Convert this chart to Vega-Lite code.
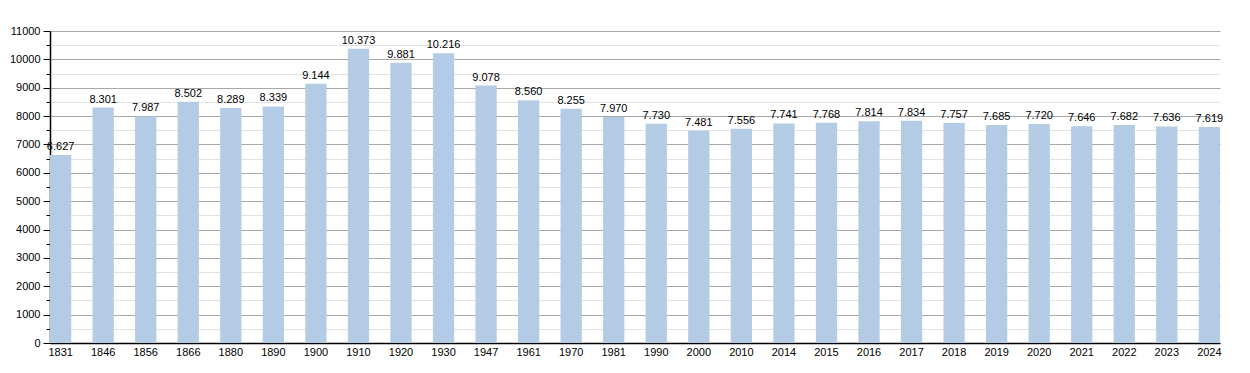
{
  "$schema": "https://vega.github.io/schema/vega-lite/v6.json",
  "width": 1170,
  "height": 312,
  "autosize": {"type": "none"},
  "padding": {"left": 50, "top": 31, "right": 30, "bottom": 30},
  "background": "white",
  "config": {
    "view": {"stroke": null},
    "font": "Liberation Sans",
    "locale": {"number": {"decimal": ",", "thousands": ".", "grouping": [3], "currency": ["", ""]}}
  },
  "data": {
    "values": [
      {"year": "1831", "pop": 6627},
      {"year": "1846", "pop": 8301},
      {"year": "1856", "pop": 7987},
      {"year": "1866", "pop": 8502},
      {"year": "1880", "pop": 8289},
      {"year": "1890", "pop": 8339},
      {"year": "1900", "pop": 9144},
      {"year": "1910", "pop": 10373},
      {"year": "1920", "pop": 9881},
      {"year": "1930", "pop": 10216},
      {"year": "1947", "pop": 9078},
      {"year": "1961", "pop": 8560},
      {"year": "1970", "pop": 8255},
      {"year": "1981", "pop": 7970},
      {"year": "1990", "pop": 7730},
      {"year": "2000", "pop": 7481},
      {"year": "2010", "pop": 7556},
      {"year": "2014", "pop": 7741},
      {"year": "2015", "pop": 7768},
      {"year": "2016", "pop": 7814},
      {"year": "2017", "pop": 7834},
      {"year": "2018", "pop": 7757},
      {"year": "2019", "pop": 7685},
      {"year": "2020", "pop": 7720},
      {"year": "2021", "pop": 7646},
      {"year": "2022", "pop": 7682},
      {"year": "2023", "pop": 7636},
      {"year": "2024", "pop": 7619}
    ]
  },
  "encoding": {
    "x": {
      "field": "year", "type": "ordinal", "sort": null,
      "scale": {"paddingInner": 0.5, "paddingOuter": 0},
      "axis": {
        "title": null, "labelAngle": 0, "ticks": false, "labelPadding": 3,
        "labelFontSize": 11, "labelColor": "#000", "domainColor": "#000", "domainWidth": 1.5,
        "labelFont": "Liberation Sans"
      }
    },
    "y": {
      "field": "pop", "type": "quantitative",
      "scale": {"domain": [0, 11000], "nice": false},
      "axis": {
        "title": null,
        "values": [0,500,1000,1500,2000,2500,3000,3500,4000,4500,5000,5500,6000,6500,7000,7500,8000,8500,9000,9500,10000,10500,11000],
        "labelExpr": "datum.value % 1000 === 0 ? format(datum.value, 'd') : ''",
        "gridColor": {"condition": {"test": "datum.value % 1000 === 0", "value": "#a8a8a8"}, "value": "#e2e2e2"},
        "tickSize": {"condition": {"test": "datum.value % 1000 === 0", "value": 7}, "value": 4},
        "tickColor": "#000",
        "labelPadding": 3,
        "labelFontSize": 11, "labelColor": "#000", "labelFont": "Liberation Sans",
        "domainColor": "#000", "domainWidth": 1.5,
        "labelOverlap": false
      }
    }
  },
  "layer": [
    {"mark": {"type": "bar", "color": "#b3cbe4"}},
    {
      "mark": {"type": "text", "baseline": "bottom", "dy": -3, "fontSize": 11, "color": "#000", "font": "Liberation Sans"},
      "encoding": {"text": {"field": "pop", "type": "quantitative", "format": ",d"}}
    }
  ]
}
